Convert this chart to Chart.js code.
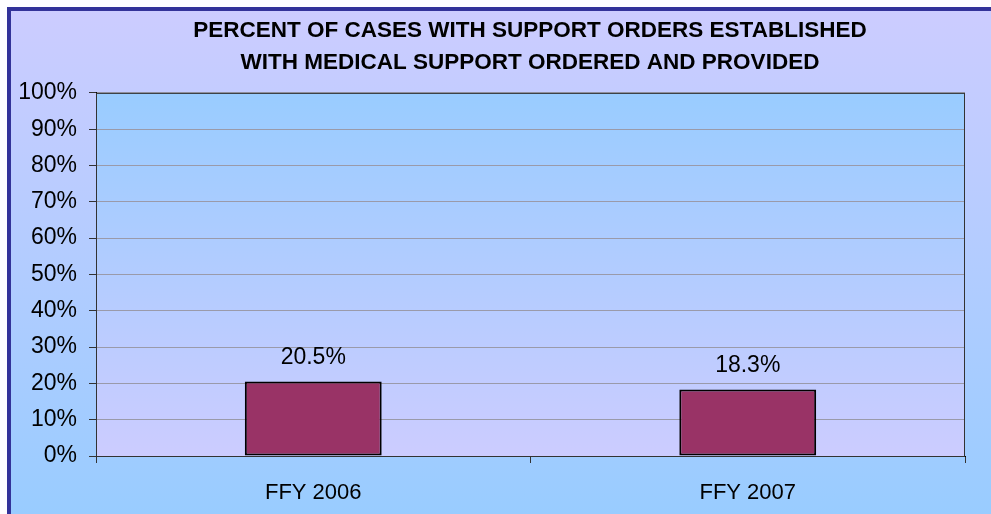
<!DOCTYPE html>
<html>
<head>
<meta charset="utf-8">
<script src="https://cdn.jsdelivr.net/npm/chart.js@4"></script>
<style>
  html, body { margin: 0; padding: 0; background: #fff; overflow: hidden; }
  #frame {
    position: absolute; left: 7px; top: 7px;
    width: 1038px; height: 503px;
    border-left: 4px solid #333399; border-top: 4px solid #333399;
    background: linear-gradient(#ccccff, #99ccff);
  }
  #chart { display: block; }
</style>
</head>
<body>
<div id="frame"><canvas id="chart" width="1038" height="503"></canvas></div>
<script>
// Chart data
const categories = ["FFY 2006", "FFY 2007"];
const percentValues = [20.5, 18.3];
const yTicks = [0, 10, 20, 30, 40, 50, 60, 70, 80, 90, 100];
const titleLines = [
  "PERCENT OF CASES WITH SUPPORT ORDERS ESTABLISHED",
  "WITH MEDICAL SUPPORT ORDERED AND PROVIDED",
];

const fontFamily = "'Liberation Sans', Arial, sans-serif";

// Plot area gradient + border
const plotBackground = {
  id: "plotBackground",
  beforeDraw(chart) {
    const { ctx, chartArea: a } = chart;
    const g = ctx.createLinearGradient(0, a.top, 0, a.bottom);
    g.addColorStop(0, "#99ccff");
    g.addColorStop(1, "#ccccff");
    ctx.save();
    ctx.fillStyle = g;
    ctx.fillRect(a.left, a.top, a.right - a.left, a.bottom - a.top);
    ctx.restore();
  },
  afterDatasetsDraw(chart) {
    const { ctx, chartArea: a } = chart;
    ctx.save();
    ctx.strokeStyle = "#333333";
    ctx.lineWidth = 1;
    ctx.strokeRect(a.left + 0.5, a.top + 0.5, a.right - a.left - 1, a.bottom - a.top);
    ctx.restore();
  },
};

// Value labels above bars
const valueLabels = {
  id: "valueLabels",
  afterDatasetsDraw(chart) {
    const { ctx } = chart;
    const meta = chart.getDatasetMeta(0);
    ctx.save();
    ctx.font = "23px " + fontFamily;
    ctx.fillStyle = "#000";
    ctx.textAlign = "center";
    ctx.textBaseline = "middle";
    meta.data.forEach((bar, i) => {
      ctx.fillText(percentValues[i].toFixed(1) + "%", bar.x, bar.y - 24);
    });
    ctx.restore();
  },
};

const ctx = document.getElementById("chart").getContext("2d");
new Chart(ctx, {
  type: "bar",
  data: {
    labels: categories,
    datasets: [
      {
        data: percentValues,
        backgroundColor: "#993366",
        borderColor: "#000000",
        borderWidth: 2,
        borderSkipped: false,
        categoryPercentage: 1,
        barPercentage: 0.315,
      },
    ],
  },
  options: {
    responsive: false,
    animation: false,
    layout: { padding: 0 },
    plugins: {
      legend: { display: false },
      tooltip: { enabled: false },
      title: {
        display: true,
        text: titleLines,
        color: "#000",
        font: { family: fontFamily, size: 22.5, weight: "bold", lineHeight: 1.42 },
        padding: { top: 4, bottom: 14 },
      },
    },
    scales: {
      x: {
        grid: { offset: true, drawOnChartArea: false, tickLength: 7, tickColor: "#333" },
        border: { color: "#000", width: 1 },
        ticks: { color: "#000", padding: 17, font: { family: fontFamily, size: 22 } },
        afterFit(scale) { scale.height = 58; },
      },
      y: {
        min: 0,
        max: 100,
        afterBuildTicks(scale) { scale.ticks = yTicks.map((v) => ({ value: v })); },
        grid: { color: "#9a9aaa", tickLength: 7, tickColor: "#333" },
        border: { color: "#000", width: 1 },
        ticks: {
          color: "#000",
          padding: 12,
          font: { family: fontFamily, size: 23 },
          callback: (v) => v + "%",
        },
        afterFit(scale) { scale.width = 85; },
      },
      // empty right-hand spacer so the title centres like the original
      spacer: {
        position: "right",
        min: 0,
        max: 100,
        grid: { display: false },
        border: { display: false },
        ticks: { display: false },
        afterFit(scale) { scale.width = 84; },
      },
    },
  },
  plugins: [plotBackground, valueLabels],
});
</script>
</body>
</html>
